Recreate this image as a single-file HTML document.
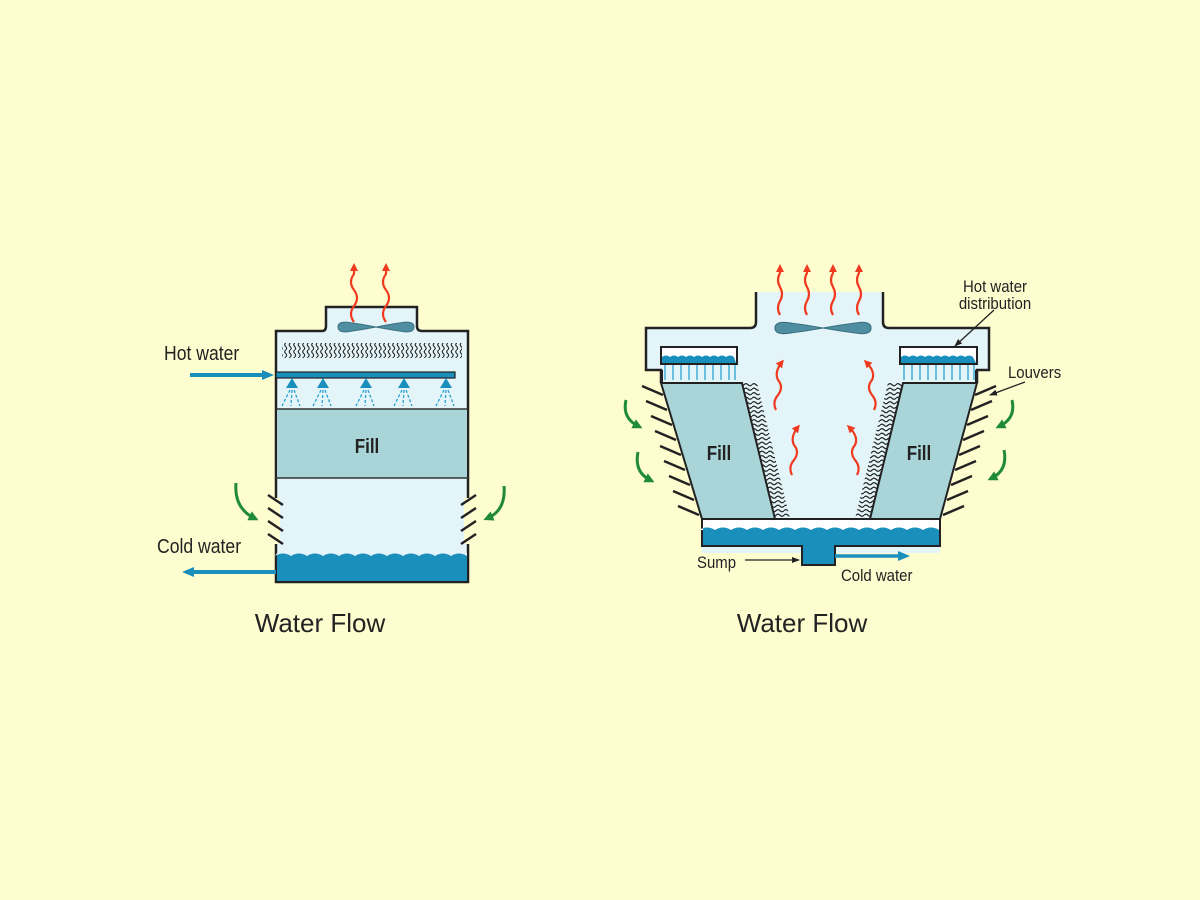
<!DOCTYPE html>
<html><head><meta charset="utf-8"><style>
html,body{margin:0;padding:0;background:#fefdd0;}
svg{display:block}
text{font-family:"Liberation Sans",sans-serif;fill:#222}
</style></head><body>
<svg width="1200" height="900" viewBox="0 0 1200 900" xmlns="http://www.w3.org/2000/svg">
<defs>
<pattern id="zz" width="16" height="4.5" patternUnits="userSpaceOnUse">
<path d="M0 2.2 q2 -2.2 4 0 t4 0 t4 0 t4 0" fill="none" stroke="#222" stroke-width="1.2"/>
</pattern>
<pattern id="de" width="4.5" height="7" patternUnits="userSpaceOnUse">
<path d="M2.2 0 q-2 1.75 0 3.5 t0 3.5" fill="none" stroke="#222" stroke-width="1.1"/>
</pattern>
<marker id="ar" markerWidth="8" markerHeight="8" refX="5" refY="4" orient="auto" markerUnits="userSpaceOnUse"><path d="M0 0 L8 4 L0 8 Z" fill="#f03a20"/></marker>
<marker id="ag" markerWidth="10" markerHeight="10" refX="5" refY="5" orient="auto" markerUnits="userSpaceOnUse"><path d="M0 0 L10 5 L0 10 Z" fill="#1f8a3a"/></marker>
<marker id="ab" markerWidth="12" markerHeight="10" refX="8" refY="5" orient="auto" markerUnits="userSpaceOnUse"><path d="M0 0 L12 5 L0 10 Z" fill="#1a8fbc"/></marker>
<marker id="ak" markerWidth="8" markerHeight="6" refX="7" refY="3" orient="auto" markerUnits="userSpaceOnUse"><path d="M0 0 L8 3 L0 6 Z" fill="#222"/></marker>
<g id="fan"><path d="M-40 0 q0 -6 10 -5 q15 2 30 5 q15 -3 30 -5 q10 -1 10 5 q0 6 -10 5 q-15 -2 -30 -5 q-15 3 -30 5 q-10 1 -10 -5Z" fill="#4f8ea0" stroke="#3a7080" stroke-width="1"/></g>
</defs>

<!-- ============ LEFT ============ -->
<path d="M276 582 L276 331 L322 331 Q326 331 326 326 L326 307 L417 307 L417 326 Q417 331 422 331 L468 331 L468 582 Z" fill="#e4f5f9" stroke="#222" stroke-width="2.5"/>
<rect x="277" y="553" width="190" height="28" fill="#1a8fbc"/>
<path d="M277 553 L467 553 L467 556 q-8 -5 -16 0 q-8 -5 -16 0 q-8 -5 -16 0 q-8 -5 -16 0 q-8 -5 -16 0 q-8 -5 -16 0 q-8 -5 -16 0 q-8 -5 -16 0 q-8 -5 -16 0 q-8 -5 -16 0 q-8 -5 -16 0 q-8 -5 -16 0 Z" fill="#e4f5f9"/>
<rect x="277" y="409" width="190" height="69" fill="#a9d4d8"/>
<line x1="276" y1="409" x2="468" y2="409" stroke="#333" stroke-width="1.5"/>
<line x1="276" y1="478" x2="468" y2="478" stroke="#333" stroke-width="1.5"/>
<text x="367" y="453" font-size="20" font-weight="bold" text-anchor="middle" fill="#1d3b4a" transform="translate(367 0) scale(0.85 1) translate(-367 0)">Fill</text>
<rect x="282" y="343" width="180" height="15" fill="url(#de)"/>
<rect x="276" y="372" width="179" height="6" fill="#1a8fbc" stroke="#222" stroke-width="1.2"/>
<g fill="#1a8fbc">
<path d="M286 388 L292 378 L298 388Z"/><path d="M317 388 L323 378 L329 388Z"/><path d="M360 388 L366 378 L372 388Z"/><path d="M398 388 L404 378 L410 388Z"/><path d="M440 388 L446 378 L452 388Z"/>
</g>
<g stroke="#2aa0d0" stroke-width="1.3" stroke-dasharray="3 2">
<path d="M290 390 L282 406 M292 390 L291 406 M294 390 L300 406"/>
<path d="M321 390 L313 406 M323 390 L322 406 M325 390 L331 406"/>
<path d="M364 390 L356 406 M366 390 L365 406 M368 390 L374 406"/>
<path d="M402 390 L394 406 M404 390 L403 406 M406 390 L412 406"/>
<path d="M444 390 L436 406 M446 390 L445 406 M448 390 L454 406"/>
</g>
<line x1="190" y1="375" x2="270" y2="375" stroke="#1a8fbc" stroke-width="4" marker-end="url(#ab)"/>
<line x1="276" y1="572" x2="186" y2="572" stroke="#1a8fbc" stroke-width="4" marker-end="url(#ab)"/>
<rect x="272" y="498" width="8" height="46" fill="#fefdd0"/>
<rect x="464" y="498" width="8" height="46" fill="#fefdd0"/>
<g stroke="#222" stroke-width="2.5">
<line x1="268" y1="495" x2="283" y2="505"/><line x1="268" y1="508" x2="283" y2="518"/><line x1="268" y1="521" x2="283" y2="531"/><line x1="268" y1="534" x2="283" y2="544"/>
<line x1="461" y1="505" x2="476" y2="495"/><line x1="461" y1="518" x2="476" y2="508"/><line x1="461" y1="531" x2="476" y2="521"/><line x1="461" y1="544" x2="476" y2="534"/>
</g>
<path d="M236 483 Q234 508 254 518" fill="none" stroke="#1f8a3a" stroke-width="3" marker-end="url(#ag)"/>
<path d="M504 486 Q506 510 488 518" fill="none" stroke="#1f8a3a" stroke-width="3" marker-end="url(#ag)"/>
<use href="#fan" transform="translate(376 327) scale(0.95 0.95)"/>
<g fill="none" stroke="#f03a20" stroke-width="2.2">
<path d="M354 322 q-6 -8 0 -16 q6 -8 0 -16 q-6 -8 0 -16 l0 -8" marker-end="url(#ar)"/>
<path d="M386 322 q-6 -8 0 -16 q6 -8 0 -16 q-6 -8 0 -16 l0 -8" marker-end="url(#ar)"/>
</g>
<text x="164" y="360" font-size="20" transform="translate(164 0) scale(0.88 1) translate(-164 0)">Hot water</text>
<text x="157" y="553" font-size="20" transform="translate(157 0) scale(0.88 1) translate(-157 0)">Cold water</text>
<text x="320" y="632" font-size="26" text-anchor="middle" fill="#333">Water Flow</text>

<!-- ============ RIGHT ============ -->
<path d="M702 553 L702 519 L661 383 L661 370 L646 370 L646 328 L750 328 Q756 328 756 322 L756 292 L883 292 L883 322 Q883 328 889 328 L989 328 L989 370 L977 370 L977 383 L940 519 L940 553 Z" fill="#e4f5f9"/>
<path d="M661 383 L661 370 L646 370 L646 328 L750 328 Q756 328 756 322 L756 292 M883 292 L883 322 Q883 328 889 328 L989 328 L989 370 L977 370 L977 383" fill="none" stroke="#222" stroke-width="2.5"/>
<path d="M661 383 L742 383 L775 519 L702 519 Z" fill="#a9d4d8" stroke="#222" stroke-width="2"/>
<path d="M742 383 L757 383 L790 519 L775 519 Z" fill="url(#zz)"/>
<path d="M903 383 L977 383 L940 519 L870 519 Z" fill="#a9d4d8" stroke="#222" stroke-width="2"/>
<path d="M888 383 L903 383 L870 519 L855 519 Z" fill="url(#zz)"/>
<text x="719" y="460" font-size="20" font-weight="bold" text-anchor="middle" fill="#1d3b4a" transform="translate(719 0) scale(0.85 1) translate(-719 0)">Fill</text>
<text x="919" y="460" font-size="20" font-weight="bold" text-anchor="middle" fill="#1d3b4a" transform="translate(919 0) scale(0.85 1) translate(-919 0)">Fill</text>
<path d="M702 519 L940 519 L940 546 L835 546 L835 565 L802 565 L802 546 L702 546 Z" fill="#1a8fbc" stroke="#222" stroke-width="2"/>
<path d="M703 520 L939 520 L939 530 q-8 -5 -16 0 q-8 -5 -16 0 q-8 -5 -16 0 q-8 -5 -16 0 q-8 -5 -16 0 q-8 -5 -16 0 q-8 -5 -16 0 q-8 -5 -16 0 q-8 -5 -16 0 q-8 -5 -16 0 q-8 -5 -16 0 q-8 -5 -16 0 q-8 -5 -16 0 q-8 -5 -16 0 q-8 -5 -16 0 L703 530Z" fill="#ffffff"/>
<rect x="661" y="347" width="76" height="17" fill="#fff" stroke="#222" stroke-width="2"/>
<path d="M662 357 q4 -3 8 0 q4 -3 8 0 q4 -3 8 0 q4 -3 8 0 q4 -3 8 0 q4 -3 8 0 q4 -3 8 0 q4 -3 8 0 q4 -3 8 0 L736 363 L662 363Z" fill="#1a8fbc"/>
<rect x="900" y="347" width="77" height="17" fill="#fff" stroke="#222" stroke-width="2"/>
<path d="M901 357 q4 -3 8 0 q4 -3 8 0 q4 -3 8 0 q4 -3 8 0 q4 -3 8 0 q4 -3 8 0 q4 -3 8 0 q4 -3 8 0 q4 -3 8 0 L976 363 L901 363Z" fill="#1a8fbc"/>
<g stroke="#2aa0d0" stroke-width="1.3">
<path d="M665 365 v15 M673 365 v15 M681 365 v15 M689 365 v15 M697 365 v15 M705 365 v15 M713 365 v15 M721 365 v15 M729 365 v15 M735 365 v15"/>
<path d="M904 365 v15 M912 365 v15 M920 365 v15 M928 365 v15 M936 365 v15 M944 365 v15 M952 365 v15 M960 365 v15 M968 365 v15 M974 365 v15"/>
</g>
<rect x="661" y="370" width="2" height="13" fill="#222"/><rect x="975" y="370" width="2" height="13" fill="#222"/>
<g stroke="#222" stroke-width="2.5">
<line x1="642" y1="386" x2="663" y2="395"/>
<line x1="646" y1="401" x2="667" y2="410"/>
<line x1="651" y1="416" x2="672" y2="425"/>
<line x1="655" y1="431" x2="676" y2="440"/>
<line x1="660" y1="446" x2="681" y2="455"/>
<line x1="664" y1="461" x2="685" y2="470"/>
<line x1="669" y1="476" x2="690" y2="485"/>
<line x1="673" y1="491" x2="694" y2="500"/>
<line x1="678" y1="506" x2="699" y2="515"/>
<line x1="996" y1="386" x2="975" y2="395"/>
<line x1="992" y1="401" x2="971" y2="410"/>
<line x1="988" y1="416" x2="967" y2="425"/>
<line x1="984" y1="431" x2="963" y2="440"/>
<line x1="980" y1="446" x2="959" y2="455"/>
<line x1="976" y1="461" x2="955" y2="470"/>
<line x1="972" y1="476" x2="951" y2="485"/>
<line x1="968" y1="491" x2="947" y2="500"/>
<line x1="964" y1="506" x2="943" y2="515"/>
</g>
<path d="M626 400 Q622 418 638 426" fill="none" stroke="#1f8a3a" stroke-width="3" marker-end="url(#ag)"/>
<path d="M638 452 Q634 472 650 480" fill="none" stroke="#1f8a3a" stroke-width="3" marker-end="url(#ag)"/>
<path d="M1012 400 Q1016 418 1000 426" fill="none" stroke="#1f8a3a" stroke-width="3" marker-end="url(#ag)"/>
<path d="M1004 450 Q1008 470 992 478" fill="none" stroke="#1f8a3a" stroke-width="3" marker-end="url(#ag)"/>
<use href="#fan" transform="translate(823 328) scale(1.2 1.1)"/>
<g fill="none" stroke="#f03a20" stroke-width="2.2">
<path d="M780 315 q-4 -7 0 -14 q4 -7 0 -14 q-4 -7 0 -14 l0 -6" marker-end="url(#ar)"/>
<path d="M807 315 q-4 -7 0 -14 q4 -7 0 -14 q-4 -7 0 -14 l0 -6" marker-end="url(#ar)"/>
<path d="M833 315 q-4 -7 0 -14 q4 -7 0 -14 q-4 -7 0 -14 l0 -6" marker-end="url(#ar)"/>
<path d="M859 315 q-4 -7 0 -14 q4 -7 0 -14 q-4 -7 0 -14 l0 -6" marker-end="url(#ar)"/>
<path d="M776 410 q-4 -8 2 -15 q6 -8 0 -15 q-4 -8 4 -18" marker-end="url(#ar)"/>
<path d="M874 410 q4 -8 -2 -15 q-6 -8 0 -15 q4 -8 -6 -18" marker-end="url(#ar)"/>
<path d="M792 475 q-4 -8 2 -15 q6 -8 0 -15 q-4 -8 4 -18" marker-end="url(#ar)"/>
<path d="M857 475 q4 -8 -2 -15 q-6 -8 0 -15 q4 -8 -6 -18" marker-end="url(#ar)"/>
</g>
<line x1="835" y1="556" x2="906" y2="556" stroke="#1a8fbc" stroke-width="3.5" marker-end="url(#ab)"/>
<line x1="745" y1="560" x2="799" y2="560" stroke="#222" stroke-width="1.3" marker-end="url(#ak)"/>
<line x1="994" y1="310" x2="955" y2="346" stroke="#222" stroke-width="1.3" marker-end="url(#ak)"/>
<line x1="1025" y1="382" x2="990" y2="395" stroke="#222" stroke-width="1.3" marker-end="url(#ak)"/>
<text x="995" y="292" font-size="17" text-anchor="middle" transform="translate(995 0) scale(0.88 1) translate(-995 0)">Hot water</text>
<text x="995" y="309" font-size="17" text-anchor="middle" transform="translate(995 0) scale(0.88 1) translate(-995 0)">distribution</text>
<text x="1008" y="378" font-size="17" transform="translate(1008 0) scale(0.88 1) translate(-1008 0)">Louvers</text>
<text x="697" y="568" font-size="17" transform="translate(697 0) scale(0.88 1) translate(-697 0)">Sump</text>
<text x="841" y="581" font-size="17" transform="translate(841 0) scale(0.88 1) translate(-841 0)">Cold water</text>
<text x="802" y="632" font-size="26" text-anchor="middle" fill="#333">Water Flow</text>
</svg>
</body></html>
